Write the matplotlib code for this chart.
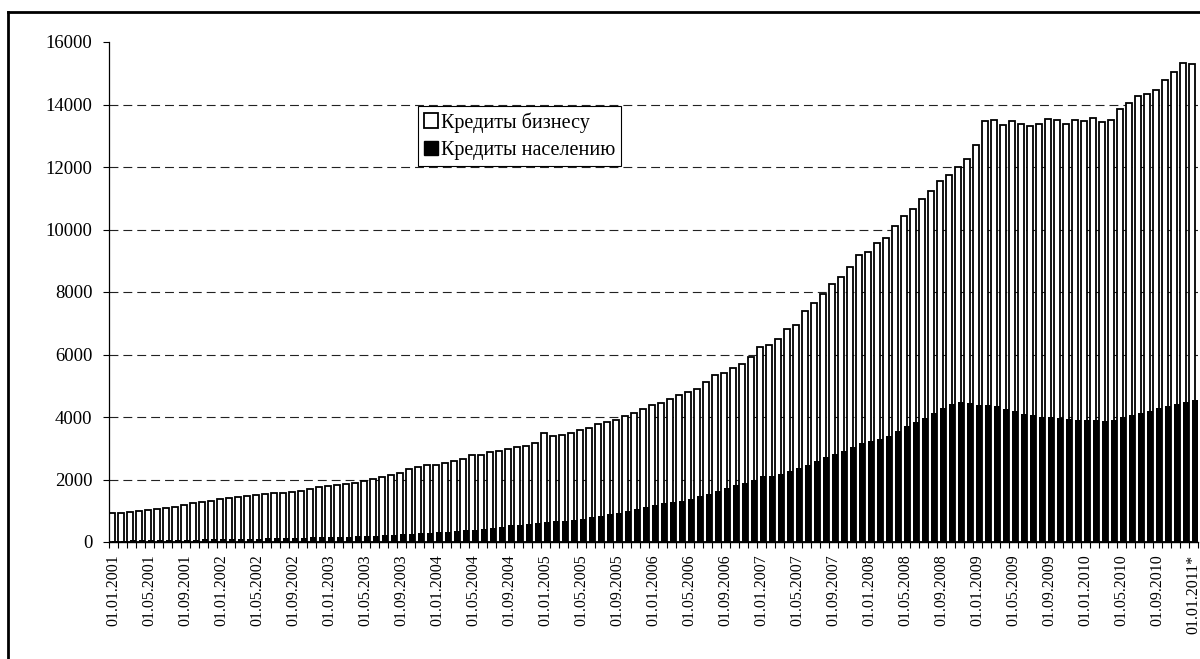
import matplotlib
matplotlib.use('Agg')
import matplotlib.pyplot as plt
from matplotlib.patches import Patch
import numpy as np

plt.rcParams['font.family'] = ['Liberation Serif', 'DejaVu Serif']

# monthly dates 01.01.2001 .. 01.01.2011
years = list(range(2001, 2011))
dates = ['01.%02d.%d' % (m, y) for y in years for m in range(1, 13)] + ['01.01.2011*']

business = [
    938, 938, 970, 981, 1024, 1045, 1088, 1131, 1195, 1237, 1269, 1323,
    1387, 1397, 1429, 1472, 1515, 1525, 1557, 1579, 1600, 1648, 1685, 1749,
    1781, 1835, 1856, 1888, 1952, 2016, 2069, 2133, 2219, 2325, 2411, 2464,
    2475, 2517, 2603, 2667, 2795, 2795, 2880, 2928, 2987, 3051, 3061, 3168,
    3499, 3403, 3413, 3477, 3584, 3648, 3776, 3829, 3904, 4043, 4128, 4256,
    4395, 4459, 4565, 4704, 4815, 4890, 5131, 5333, 5419, 5579, 5707, 5920,
    6240, 6304, 6485, 6805, 6955, 7381, 7648, 7947, 8245, 8469, 8800, 9173,
    9280, 9568, 9728, 10112, 10443, 10667, 10965, 11243, 11552, 11744, 12000, 12267,
    12693, 13483, 13515, 13355, 13472, 13376, 13312, 13376, 13547, 13515, 13387, 13493,
    13483, 13557, 13429, 13515, 13845, 14048, 14261, 14325, 14464, 14784, 15051, 15328,
    15296,
]

households = [
    45, 48, 52, 55, 58, 62, 65, 70, 74, 80, 85, 90,
    95, 98, 102, 106, 110, 115, 120, 125, 132, 140, 146, 152,
    158, 165, 172, 180, 190, 205, 220, 235, 250, 265, 280, 295,
    312, 330, 350, 370, 395, 420, 445, 495, 533, 555, 576, 608,
    651, 661, 683, 704, 747, 789, 843, 896, 939, 1003, 1067, 1131,
    1195, 1237, 1269, 1312, 1380, 1465, 1550, 1635, 1740, 1815, 1890, 1995,
    2100, 2125, 2190, 2275, 2360, 2465, 2590, 2705, 2820, 2925, 3030, 3155,
    3240, 3295, 3400, 3550, 3700, 3830, 3965, 4120, 4280, 4410, 4480, 4450,
    4400, 4395, 4340, 4255, 4180, 4105, 4050, 4015, 3995, 3965, 3935, 3910,
    3905, 3890, 3880, 3890, 3990, 4065, 4120, 4200, 4275, 4350, 4430, 4490,
    4560,
]

yticks = list(range(0, 16001, 2000))

fig = plt.figure(figsize=(12, 6.59), dpi=100)
ax = fig.add_axes([109 / 1200, 1 - 542 / 659, 1089 / 1200, 500 / 659])

x = np.arange(len(dates))
w = 2 / 3
ax.bar(x - 0.5, business, width=w, align='edge', color='white',
       edgecolor='black', linewidth=1.3, zorder=2)
ax.bar(x - 0.5 + 1 / 3, households, width=w, align='edge', color='black',
       edgecolor='none', linewidth=0, zorder=3)

# dashed grid (not at 0 and top)
for v in yticks[1:-1]:
    ax.axhline(v, color='#222222', lw=0.8, dashes=(8, 4.5), zorder=1)

ax.set_xlim(-0.5, len(dates) - 0.5)
ax.set_ylim(0, 16000)
ax.set_yticks(yticks)
ax.set_yticklabels([str(v) for v in yticks], fontsize=13.5)
ax.tick_params(axis='y', length=4, width=0.8, pad=8, direction='out')

ax.set_xticks(x[::4])
ax.set_xticklabels(dates[::4], rotation=90, fontsize=11.5)
ax.set_xticks(np.arange(-0.5, len(dates)), minor=True)
ax.tick_params(axis='x', which='major', length=0, pad=9)
ax.tick_params(axis='x', which='minor', length=4, width=0.8, direction='out')

for s in ['top', 'right']:
    ax.spines[s].set_visible(False)
ax.spines['left'].set_linewidth(0.9)
ax.spines['bottom'].set_linewidth(1.0)
ax.spines['bottom'].set_zorder(4)

handles = [Patch(facecolor='white', edgecolor='black', linewidth=1.3, label='Кредиты бизнесу'),
           Patch(facecolor='black', edgecolor='black', label='Кредиты населению')]
leg = fig.legend(handles=handles, loc='upper left',
                 bbox_to_anchor=(418 / 1200, 1 - 106 / 659), fontsize=14.5,
                 frameon=True, fancybox=False, edgecolor='black', framealpha=1,
                 handlelength=0.7, handleheight=0.7, handletextpad=0.12,
                 labelspacing=0.4, borderpad=0.3, borderaxespad=0)
leg.get_frame().set_linewidth(0.8)

# outer chart frame (only left and top edges inside the image)
fig.add_artist(plt.Line2D([8 / 1200, 8 / 1200], [0, 1 - 12 / 659],
                          transform=fig.transFigure, color='black', lw=2))
fig.add_artist(plt.Line2D([8 / 1200, 1.0], [1 - 12 / 659, 1 - 12 / 659],
                          transform=fig.transFigure, color='black', lw=2))

fig.savefig('out.png', dpi=100)
